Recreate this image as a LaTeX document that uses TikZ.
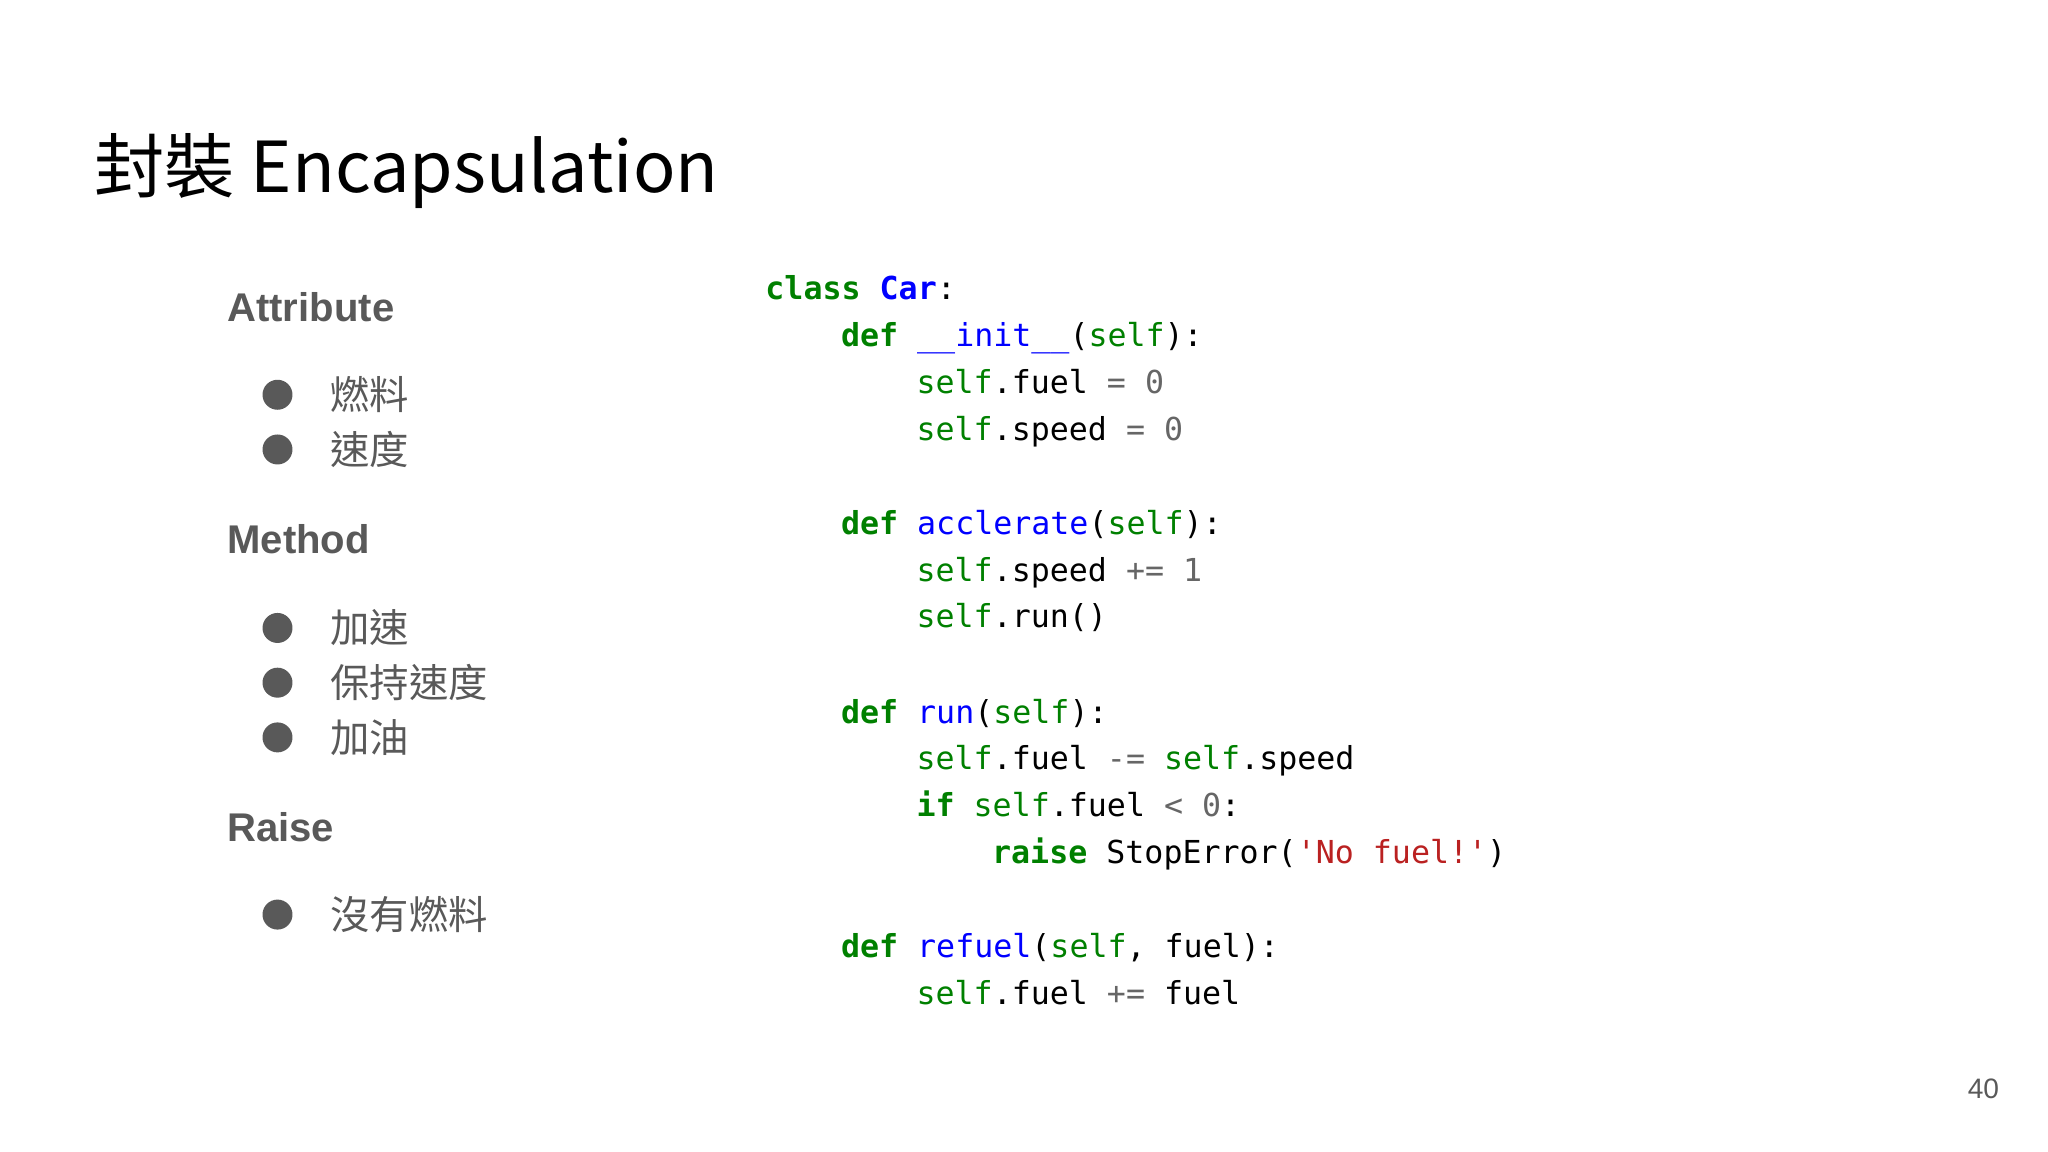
\documentclass[tikz,border=0pt]{standalone}
\usepackage{fontspec}
\setmainfont{Liberation Sans}
\setmonofont{DejaVu Sans Mono}
\newfontfamily\cjk{Noto Sans CJK TC}
\definecolor{kwg}{HTML}{008000}
\definecolor{fnb}{HTML}{0000FF}
\definecolor{opg}{HTML}{666666}
\definecolor{strr}{HTML}{BA2121}
\definecolor{txtg}{HTML}{595959}
\newcommand\ckw[1]{\textcolor{kwg}{\bfseries #1}}
\newcommand\cfn[1]{\textcolor{fnb}{#1}}
\newcommand\cself{\textcolor{kwg}{self}}
\newcommand\cop[1]{\textcolor{opg}{#1}}
\newcommand\cstr[1]{\textcolor{strr}{#1}}
\tikzset{
 codeline/.style={anchor=base west,inner sep=0pt,font=\ttfamily\fontsize{9pt}{10pt}\selectfont,text=black},
 head/.style={anchor=base west,inner sep=0pt,font=\bfseries\fontsize{11.4pt}{13pt}\selectfont,text=txtg},
 item/.style={anchor=west,inner sep=0pt,font=\cjk\fontsize{11.2pt}{12pt}\selectfont,text=txtg},
 dot/.style={circle,fill=txtg,minimum size=0.3cm,inner sep=0pt}
}
\begin{document}
\begin{tikzpicture}[x=0.01303cm,y=-0.01303cm]
\useasboundingbox (0,-2) rectangle (1572,882.2);
\node[anchor=base west,inner sep=0pt,font=\cjk\fontsize{20pt}{24pt}\selectfont] (title) at (72,146) {封裝 Encapsulation};
\node[head] (h1) at (174,245) {Attribute};
\node[dot] (d1) at (213,301) {}; \node[item] (t1) at (253,301) {燃料};
\node[dot] (d2) at (213,343) {}; \node[item] (t2) at (253,343) {速度};
\node[head] (h2) at (174,423) {Method};
\node[dot] (d3) at (213,480) {}; \node[item] (t3) at (253,480) {加速};
\node[dot] (d4) at (213,522) {}; \node[item] (t4) at (253,522) {保持速度};
\node[dot] (d5) at (213,564) {}; \node[item] (t5) at (253,564) {加油};
\node[head] (h3) at (174,644) {Raise};
\node[dot] (d6) at (213,700) {}; \node[item] (t6) at (253,700) {沒有燃料};
\node[codeline] (c1) at (587,228) {\ckw{class} \textcolor{fnb}{\bfseries Car}:};
\node[codeline] (c2) at (645,264) {\ckw{def} \cfn{\_\_init\_\_}(\cself):};
\node[codeline] (c3) at (703,300) {\cself.fuel \cop{=} \cop{0}};
\node[codeline] (c4) at (703,336) {\cself.speed \cop{=} \cop{0}};
\node[codeline] (c5) at (645,408) {\ckw{def} \cfn{acclerate}(\cself):};
\node[codeline] (c6) at (703,444) {\cself.speed \cop{+=} \cop{1}};
\node[codeline] (c7) at (703,480) {\cself.run()};
\node[codeline] (c8) at (645,553) {\ckw{def} \cfn{run}(\cself):};
\node[codeline] (c9) at (703,589) {\cself.fuel \cop{-=} \cself.speed};
\node[codeline] (c10) at (703,625) {\ckw{if} \cself.fuel \cop{<} \cop{0}:};
\node[codeline] (c11) at (761,661) {\ckw{raise} StopError(\cstr{\symbol{39}No fuel!\symbol{39}})};
\node[codeline] (c12) at (645,733) {\ckw{def} \cfn{refuel}(\cself, fuel):};
\node[codeline] (c13) at (703,769) {\cself.fuel \cop{+=} fuel};
\node[anchor=base east,inner sep=0pt,font=\fontsize{8pt}{9pt}\selectfont,text=txtg] (pg) at (1535,841) {40};
\end{tikzpicture}
\end{document}
